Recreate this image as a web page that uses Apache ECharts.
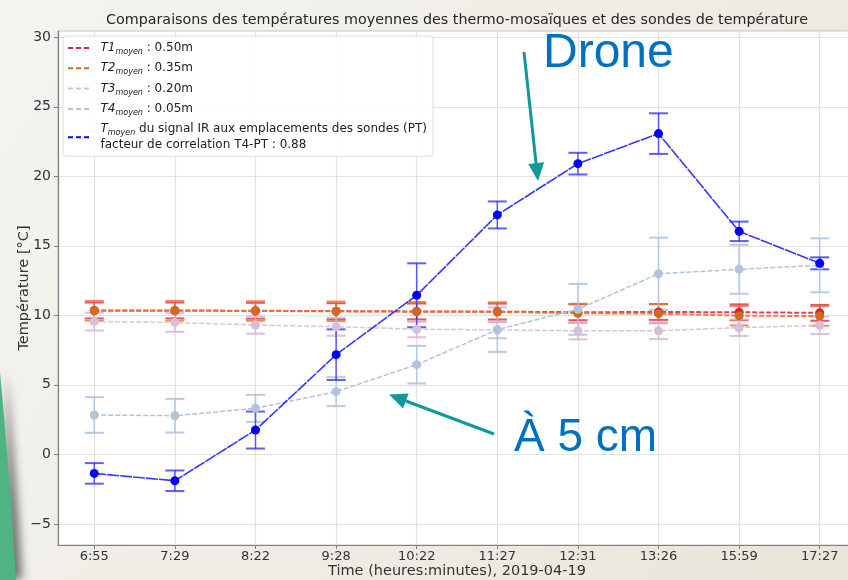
<!DOCTYPE html>
<html><head><meta charset="utf-8">
<script src="https://cdn.jsdelivr.net/npm/echarts@6/dist/echarts.min.js"></script>
<style>html,body{margin:0;padding:0;background:#f0eee7}#c{width:848px;height:580px}</style>
</head><body><div id="c"></div>
<script>
// ---- data ----
const categories = ['6:55','7:29','8:22','9:28','10:22','11:27','12:31','13:26','15:59','17:27'];
const yTicks = [-5, 0, 5, 10, 15, 20, 25, 30];
const t1 = [10.35, 10.35, 10.33, 10.30, 10.28, 10.27, 10.22, 10.24, 10.22, 10.18];
const t1Err = [0.57, 0.57, 0.57, 0.57, 0.57, 0.57, 0.57, 0.57, 0.57, 0.57];
const t2 = [10.33, 10.33, 10.31, 10.29, 10.26, 10.24, 10.15, 10.12, 9.97, 9.95];
const t2Err = [0.71, 0.71, 0.70, 0.70, 0.70, 0.70, 0.68, 0.68, 0.70, 0.70];
const t3 = [9.55, 9.49, 9.30, 9.18, 9.00, 8.95, 8.89, 8.89, 9.11, 9.28];
const t3Err = [0.64, 0.67, 0.62, 0.65, 0.58, 0.60, 0.62, 0.60, 0.60, 0.63];
const t4 = [2.83, 2.78, 3.31, 4.51, 6.45, 8.97, 10.43, 12.99, 13.31, 13.60];
const t4Err = [1.28, 1.21, 0.97, 1.04, 1.35, 1.60, 1.83, 2.60, 1.76, 1.94];
const pt = [-1.37, -1.90, 1.75, 7.17, 11.44, 17.22, 20.91, 23.07, 16.04, 13.74];
const ptErr = [0.74, 0.74, 1.33, 1.82, 2.30, 0.97, 0.78, 1.46, 0.70, 0.43];
const seriesNames = ['T1', 'T2', 'T3', 'T4', 'PT'];
const legendLabels = {
  T1: '{i|T1}{s|moyen}{n| : 0.50m}',
  T2: '{i|T2}{s|moyen}{n| : 0.35m}',
  T3: '{i|T3}{s|moyen}{n| : 0.20m}',
  T4: '{i|T4}{s|moyen}{n| : 0.05m}',
  PT: '{i|T}{s|moyen}{n| du signal IR aux emplacements des sondes (PT)}\n{n|facteur de correlation T4-PT : 0.88}'
};
const titleText = 'Comparaisons des températures moyennes des thermo-mosaïques et des sondes de température';
const xName = 'Time (heures:minutes), 2019-04-19';
const yName = 'Température [°C]';

// ---- helpers ----
const F = 'DejaVu Sans';
function errSeries(vals, errs, color) {
  return {
    type: 'custom', silent: true,
    data: vals.map((v, i) => [i, v + errs[i], v - errs[i]]),
    encode: { x: 0, y: [1, 2] },
    renderItem(params, api) {
      const x = api.value(0);
      const a = api.coord([x, api.value(1)]);
      const b = api.coord([x, api.value(2)]);
      const w = 9.5;
      return { type: 'group', children: [
        { type: 'line', shape: { x1: a[0], y1: a[1], x2: b[0], y2: b[1] }, style: { stroke: color, lineWidth: 1.5 } },
        { type: 'line', shape: { x1: a[0] - w, y1: a[1], x2: a[0] + w, y2: a[1] }, style: { stroke: color, lineWidth: 2 } },
        { type: 'line', shape: { x1: b[0] - w, y1: b[1], x2: b[0] + w, y2: b[1] }, style: { stroke: color, lineWidth: 2 } }
      ]};
    }
  };
}
function lineSeries(name, vals, lineColor, markerColor, width, dash) {
  return {
    name, type: 'line', data: vals.map((v, i) => [i, v]),
    symbol: 'circle', symbolSize: 9,
    itemStyle: { color: markerColor },
    lineStyle: { color: lineColor, width, type: dash },
    emphasis: { disabled: true }, animation: false
  };
}
const dashIcon = 'path://M0,0h5v2h-5zM8,0h5v2h-5zM16,0h5v2h-5z';

const series = [
  errSeries(t1, t1Err, 'rgba(228,40,66,0.8)'),
  lineSeries('T1', t1, 'rgba(230,40,70,0.9)', '#de1f3c', 2, [5, 2]),
  errSeries(t2, t2Err, 'rgba(225,115,45,0.8)'),
  lineSeries('T2', t2, 'rgba(228,120,50,0.9)', '#d2691e', 2, [5, 2]),
  errSeries(t3, t3Err, 'rgba(215,185,215,0.9)'),
  lineSeries('T3', t3, '#dcc2dc', '#d8bfd8', 1.5, [5, 2]),
  errSeries(t4, t4Err, 'rgba(176,196,222,0.9)'),
  lineSeries('T4', t4, '#b0c4de', '#b0c4de', 1.5, [5, 2]),
  errSeries(pt, ptErr, 'rgba(40,40,255,0.75)'),
  lineSeries('PT', pt, 'rgba(20,20,255,0.85)', '#0000ff', 1.6, [12, 1])
];

const chart = echarts.init(document.getElementById('c'));
chart.setOption({
  animation: false,
  backgroundColor: { type: 'linear', x: 0, y: 0, x2: 1, y2: 1,
    colorStops: [{ offset: 0, color: '#f5f4f1' }, { offset: 1, color: '#e9e5d9' }] },
  title: { text: titleText, left: 101, top: 8,
    textStyle: { fontFamily: F, fontSize: 14.3, fontWeight: 'normal', color: '#262626' } },
  grid: { left: 58, top: 31, right: -8, bottom: 35, show: true, backgroundColor: '#ffffff',
    borderColor: '#c4c4c4', borderWidth: 1, outerBoundsMode: 'none', containLabel: false },
  xAxis: {
    type: 'value', min: -0.45, max: 9.45,
    name: xName, nameLocation: 'middle', nameGap: 19, nameMoveOverlap: false,
    nameTextStyle: { fontFamily: F, fontSize: 14.5, color: '#333' },
    axisLine: { show: true, onZero: false, lineStyle: { color: '#808080', width: 1.2 } },
    axisTick: { show: true, length: 4, customValues: categories.map((c, i) => i), lineStyle: { color: '#808080' } },
    axisLabel: { customValues: categories.map((c, i) => i), formatter: v => categories[Math.round(v)],
      fontFamily: F, fontSize: 13, color: '#333', margin: 5 },
    splitLine: { show: true, lineStyle: { color: '#e2e2e2', width: 1.2 } }
  },
  yAxis: {
    type: 'value', min: -6.52, max: 30.45,
    name: yName, nameLocation: 'middle', nameGap: 26, nameRotate: 90, nameMoveOverlap: false,
    nameTextStyle: { fontFamily: F, fontSize: 14.5, color: '#333' },
    axisLine: { show: true, onZero: false, lineStyle: { color: '#808080', width: 1.2 } },
    axisTick: { show: true, length: 4, customValues: yTicks, lineStyle: { color: '#808080' } },
    axisLabel: { customValues: yTicks, formatter: v => (v < 0 ? '\u2212' + Math.abs(v) : String(v)),
      fontFamily: F, fontSize: 14, color: '#333', margin: 7 },
    splitLine: { show: true, lineStyle: { color: '#e2e2e2', width: 1.2 } }
  },
  legend: {
    left: 63, top: 36, orient: 'vertical', selectedMode: false,
    backgroundColor: 'rgba(255,255,255,0.9)', borderColor: '#dcdcdc', borderWidth: 1, borderRadius: 3,
    padding: [4, 6, 3, 5], itemGap: 4.3, itemWidth: 22, itemHeight: 2,
    data: seriesNames.map(n => ({ name: n, icon: dashIcon })),
    formatter: n => legendLabels[n],
    textStyle: { fontFamily: F, fontSize: 12, lineHeight: 16, color: '#222', padding: [0, 0, 0, 6],
      rich: {
        i: { fontFamily: F, fontSize: 12, fontStyle: 'italic', color: '#222', lineHeight: 16, verticalAlign: 'middle' },
        s: { fontFamily: F, fontSize: 8, fontStyle: 'italic', color: '#222', lineHeight: 8, verticalAlign: 'bottom' },
        n: { fontFamily: F, fontSize: 12, color: '#222', lineHeight: 16, verticalAlign: 'middle' }
      } }
  },
  graphic: [
    { type: 'polygon', z: 100, silent: true,
      shape: { points: [[0, 372], [3, 405], [6, 440], [9, 478], [12, 515], [14, 548], [16, 580], [0, 580]] },
      style: { fill: '#4fb383', shadowBlur: 10, shadowColor: 'rgba(0,0,0,0.55)', shadowOffsetX: 6 } },
    { type: 'text', z: 100, silent: true, x: 543, y: 54,
      style: { text: 'Drone', font: '48px "Liberation Sans", Arial, sans-serif', fill: '#0070c0', verticalAlign: 'middle' } },
    { type: 'text', z: 100, silent: true, x: 514, y: 438,
      style: { text: 'À 5 cm', font: '46px "Liberation Sans", Arial, sans-serif', fill: '#0070c0', verticalAlign: 'middle' } },
    { type: 'line', z: 100, silent: true, shape: { x1: 524, y1: 52, x2: 536.1, y2: 164 },
      style: { stroke: '#11999a', lineWidth: 3 } },
    { type: 'polygon', z: 100, silent: true, shape: { points: [[538, 181], [528.2, 164], [544.1, 162.2]] },
      style: { fill: '#11999a' } },
    { type: 'line', z: 100, silent: true, shape: { x1: 494, y1: 434, x2: 405.9, y2: 401 },
      style: { stroke: '#11999a', lineWidth: 3 } },
    { type: 'polygon', z: 100, silent: true, shape: { points: [[389, 394.5], [408.7, 393.5], [403.1, 408.5]] },
      style: { fill: '#11999a' } }
  ],
  series
});
</script></body></html>
